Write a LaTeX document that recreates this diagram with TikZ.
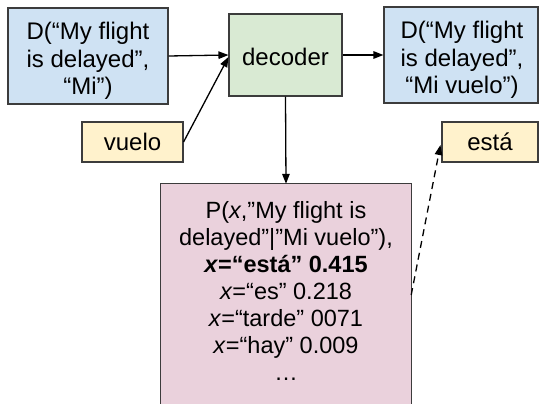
\documentclass[tikz,border=0pt]{standalone}
\usepackage{fontspec}
\setmainfont{Liberation Sans}
\usetikzlibrary{arrows.meta,calc}

\definecolor{stateblue}{HTML}{CFE2F3}
\definecolor{decgreen}{HTML}{D9EAD3}
\definecolor{wordyellow}{HTML}{FFF2CC}
\definecolor{probpink}{HTML}{EAD1DC}
\definecolor{edgegray}{HTML}{3C3C3C}

\tikzset{
  box/.style={draw=edgegray, line width=1.1pt, inner sep=0pt, align=center,
              font=\fontsize{24}{27.5}\selectfont},
  statebox/.style={box, fill=stateblue},
  wordbox/.style={box, fill=wordyellow},
  boxtext/.style={align=center, font=\fontsize{24}{27.5}\selectfont},
  link/.style={line width=1.3pt, -{Triangle[length=10pt,width=7.5pt]}},
  guess/.style={link, dash pattern=on 7pt off 5pt}
}

\begin{document}
\begin{tikzpicture}[x=1pt,y=-1pt]
  \useasboundingbox (0,0) rectangle (539,404);

  % encoder states and decoder
  \node[statebox, minimum width=160pt, minimum height=96pt] (prev) at (88,56) {};
  \node[boxtext] (prevtxt) at (88,61) {D(“My flight\\is delayed”,\\“Mi”)};
  \node[box, fill=decgreen, minimum width=113pt, minimum height=82pt] (dec) at (285.5,55) {};
  \node[boxtext] (dectxt) at (285.5,57) {decoder};
  \node[statebox, minimum width=154pt, minimum height=96pt] (next) at (461,55) {};
  \node[boxtext] (nexttxt) at (462,60) {D(“My flight\\is delayed”,\\“Mi vuelo”)};

  % input and output words
  \node[wordbox, minimum width=101pt, minimum height=40pt] (vuelo) at (132.5,142) {vuelo};
  \node[wordbox, minimum width=96pt, minimum height=40pt] (esta) at (490,142) {está};

  % output distribution, open at the bottom
  \node[fill=probpink, minimum width=250pt, minimum height=222pt, inner sep=0pt] (dist) at (286,295) {};
  \draw[draw=edgegray, line width=1.1pt]
    (dist.south west) -- (dist.north west) -- (dist.north east) -- (dist.south east);
  \node[align=center, font=\fontsize{23.5}{27}\selectfont] (probs) at (286,291)
    {P(\textit{x},”My flight is\\
     delayed”|”Mi vuelo”),\\
     \textbf{\textit{x}=“está” 0.415}\\
     \textit{x}=“es” 0.218\\
     \textit{x}=“tarde” 0071\\
     \textit{x}=“hay” 0.009\\
     …};

  % connectors
  \draw[link] (prev.east) -- (dec.west);
  \draw[link] (vuelo.east) -- ($(dec.west)+(0,2)$);
  \draw[link] (dec.east) -- (next.west);
  \draw[link] (dec.south) -- (dist.north);
  \draw[guess] (dist.east) -- ($(esta.west)+(-1,3)$);
\end{tikzpicture}
\end{document}
